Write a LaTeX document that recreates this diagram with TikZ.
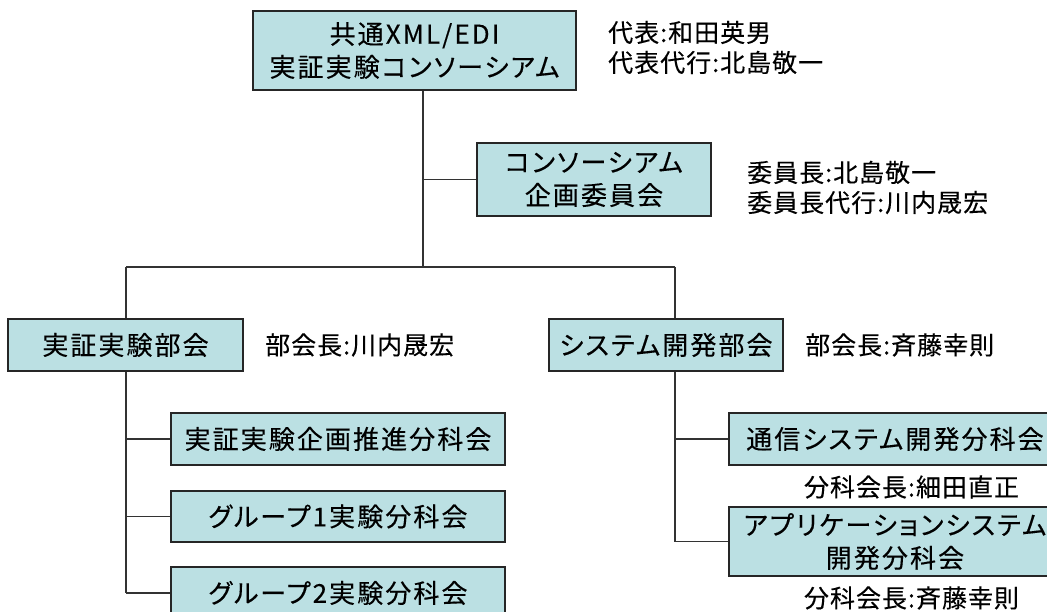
\documentclass[tikz,border=0pt]{standalone}
\usepackage{fontspec}
\setmainfont{Noto Sans CJK JP}[RawFeature={+palt}]
\newfontfamily\boxfont{Noto Sans CJK JP}[RawFeature={+palt},LetterSpace=8,FakeBold=0.3]
\newfontfamily\notefont{Noto Sans CJK JP}[RawFeature={+palt},LetterSpace=4,FakeBold=0.2]
\usetikzlibrary{positioning}
\definecolor{boxcyan}{RGB}{187,224,227}

\begin{document}
\begin{tikzpicture}[
  x=1pt, y=-1pt,
  unit/.style = {draw=black!85, fill=boxcyan, line width=1.4pt, align=center,
                 inner sep=0pt, font=\boxfont\fontsize{26}{33}\selectfont},
  note/.style = {anchor=west, align=left, inner sep=0pt,
                 font=\notefont\fontsize{25}{30}\selectfont},
  link/.style = {draw=black!80, line width=1.4pt}
]

  \useasboundingbox (0,0) rectangle (1047,612);
  \clip (0,0) rectangle (1047,612);

  % boxes
  \node[unit, minimum width=323, minimum height=79] (cons) at (414.5,50.5)
    {共通XML/EDI\\実証実験コンソーシアム};
  \node[unit, minimum width=234, minimum height=73] (plan) at (594,179.5)
    {コンソーシアム\\企画委員会};
  \node[unit, minimum width=235, minimum height=52] (exp) at (125.5,345) {実証実験部会};
  \node[unit, minimum width=234, minimum height=52] (sys) at (666,345) {システム開発部会};

  \node[unit, minimum width=334, minimum height=52] (expplan) at (338,439) {実証実験企画推進分科会};
  \node[unit, minimum width=334, minimum height=51] (grp1) at (338,516.5) {グループ1実験分科会};
  \node[unit, minimum width=334, minimum height=52] (grp2) at (338,593) {グループ2実験分科会};

  \node[unit, minimum width=332, minimum height=52] (comm) at (895,439) {通信システム開発分科会};
  \node[unit, minimum width=332, minimum height=69] (app) at (895,541.5)
    {アプリケーションシステム\\開発分科会};

  % names
  \node[note] (consnote) at (608,47.5) {代表:和田英男\\代表代行:北島敬一};
  \node[note] (plannote) at (747,187.5) {委員長:北島敬一\\委員長代行:川内晟宏};
  \node[note] (expnote) at (265,345) {部会長:川内晟宏};
  \node[note] (sysnote) at (805,345) {部会長:斉藤幸則};
  \node[note, anchor=center] (commnote) at (911.5,487) {分科会長:細田直正};
  \node[note, anchor=center] (appnote) at (911.5,598) {分科会長:斉藤幸則};

  % lines
  \coordinate (top) at (423,267);
  \coordinate (left) at (126,267);
  \coordinate (right) at (675,267);

  \draw[link] (cons.south -| top) -- (top);
  \draw[link] (plan.west) -- (plan.west -| top);
  \draw[link] (left) -- (right);

  \draw[link] (left) -- (left |- exp.north);
  \draw[link] (exp.south -| left) -- (left |- grp2.west);
  \draw[link] (expplan.west) -- (expplan.west -| left);
  \draw[link] (grp1.west) -- (grp1.west -| left);
  \draw[link] (grp2.west) -- (grp2.west -| left);

  \draw[link] (right) -- (right |- sys.north);
  \draw[link] (sys.south -| right) -- (right |- app.west);
  \draw[link] (comm.west) -- (comm.west -| right);
  \draw[link] (app.west) -- (app.west -| right);

\end{tikzpicture}
\end{document}
